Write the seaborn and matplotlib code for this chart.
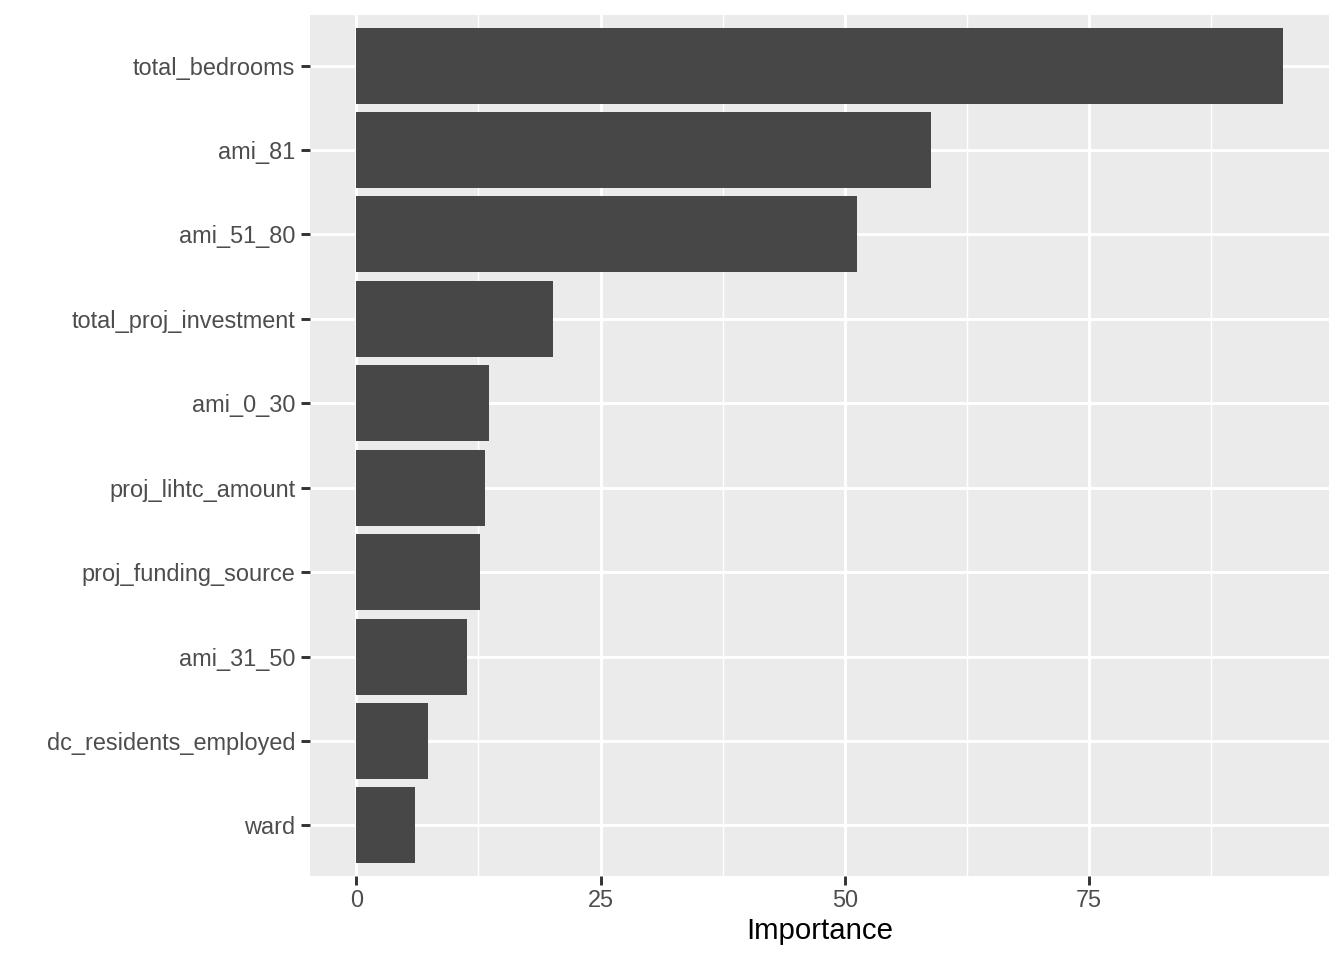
import matplotlib
matplotlib.use("Agg")
import matplotlib.pyplot as plt
import seaborn as sns
import pandas as pd
from matplotlib.ticker import MultipleLocator

variables = ["total_bedrooms", "ami_81", "ami_51_80", "total_proj_investment", "ami_0_30",
             "proj_lihtc_amount", "proj_funding_source", "ami_31_50", "dc_residents_employed", "ward"]
importance = [94.8, 58.8, 51.2, 20.1, 13.6, 13.2, 12.7, 11.35, 7.36, 6.03]

df = pd.DataFrame({"Variable": variables, "Importance": importance})

sns.set_theme(style="darkgrid")
plt.rcParams['font.family'] = ['Liberation Sans', 'DejaVu Sans']

fig = plt.figure(figsize=(7, 5), dpi=192)
ax = fig.add_axes([310/1344, 1 - 876/960, (1329 - 310)/1344, (876 - 15)/960])
ax.set_facecolor("#EBEBEB")
sns.barplot(data=df, x="Importance", y="Variable", orient="h", color="#474747",
            width=0.9, saturation=1, linewidth=0, edgecolor="none", ax=ax, zorder=3)

xmax = max(importance)
ax.set_xlim(-0.05 * xmax, xmax * 1.05)
ax.set_ylim(len(variables) - 0.4, -0.6)
ax.xaxis.set_major_locator(MultipleLocator(25))
ax.xaxis.set_minor_locator(MultipleLocator(12.5))
ax.grid(which="major", color="white", linewidth=1.1, zorder=0)
ax.grid(which="minor", axis="x", color="white", linewidth=0.55, zorder=0)
ax.set_axisbelow(True)
for s in ax.spines.values():
    s.set_visible(False)
ax.tick_params(axis="both", which="major", length=3.5, width=1.1, color="#333333",
               labelsize=8.8, labelcolor="#4D4D4D", left=True, bottom=True)
ax.tick_params(axis="x", which="major", pad=1.2)
ax.tick_params(axis="y", which="major", pad=2.0)
ax.tick_params(axis="both", which="minor", length=0)
ax.set_xlabel("Importance", fontsize=11, color="black", labelpad=2)
ax.set_ylabel("")

fig.savefig("out.png", dpi=192)
